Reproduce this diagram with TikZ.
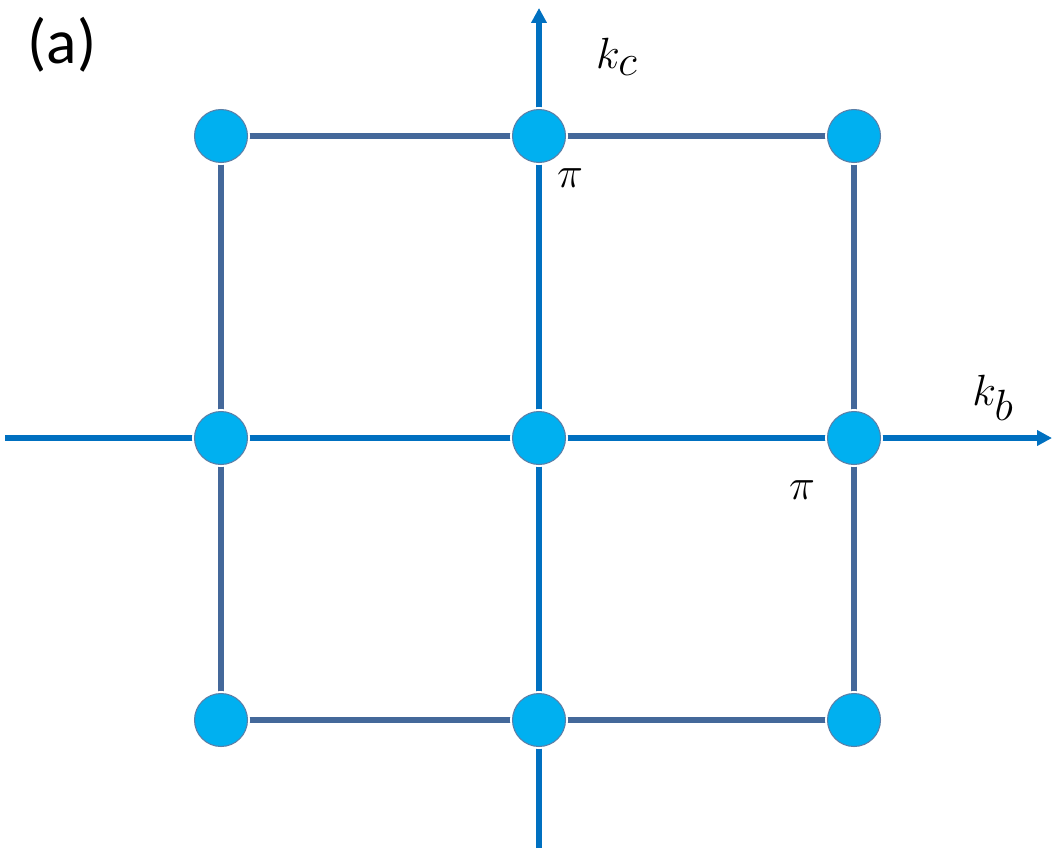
\documentclass[tikz,border=0pt]{standalone}
\usepackage{fontspec}
\newfontfamily\carlitofont{Carlito}
\usetikzlibrary{arrows.meta}
\definecolor{axisc}{HTML}{0070C0}
\definecolor{gridc}{HTML}{44689A}
\definecolor{dotc}{HTML}{00B0F0}
\definecolor{dotb}{HTML}{5A7FA8}
\begin{document}
\begin{tikzpicture}[x=0.02cm,y=-0.02cm,
  axisl/.style={draw=axisc,line width=0.11cm},
  gridl/.style={draw=gridc,line width=0.11cm},
  dot/.style={circle,fill=dotc,draw=dotb,line width=0.6pt,minimum size=1.06cm,inner sep=0pt,
    preaction={draw=white,line width=0.1cm}},
  lab/.style={font=\fontsize{36}{40}\selectfont,inner sep=0pt},
  mlab/.style={font=\fontsize{52}{56}\selectfont,inner sep=0pt}]
\useasboundingbox (0,0) rectangle (1054,852);
\coordinate (L) at (5,438); \coordinate (R) at (1052,438);
\coordinate (B) at (539,848); \coordinate (T) at (539,8);
\draw[axisl,-{Triangle[length=0.3cm,width=0.3cm]}] (L) -- (R);
\draw[axisl,-{Triangle[length=0.3cm,width=0.3cm]}] (B) -- (T);
\coordinate (g11) at (221,136); \coordinate (g12) at (539,136); \coordinate (g13) at (854,136);
\coordinate (g21) at (221,438); \coordinate (g22) at (539,438); \coordinate (g23) at (854,438);
\coordinate (g31) at (221,720); \coordinate (g32) at (539,720); \coordinate (g33) at (854,720);
\draw[gridl] (g11) -- (g13) -- (g33) -- (g31) -- cycle;
\foreach \n in {g11,g12,g13,g21,g22,g23,g31,g32,g33}
  \node[dot] (d\n) at (\n) {};
\node[lab] (a) at (62,45) {\carlitofont (a)};
\node[mlab] (kc) at (617,57) {$k_c$};
\node[mlab] (kb) at (993,398) {$k_b$};
\node[mlab] (p1) at (570,178) {$\pi$};
\node[mlab] (p2) at (802,490) {$\pi$};
\end{tikzpicture}
\end{document}
